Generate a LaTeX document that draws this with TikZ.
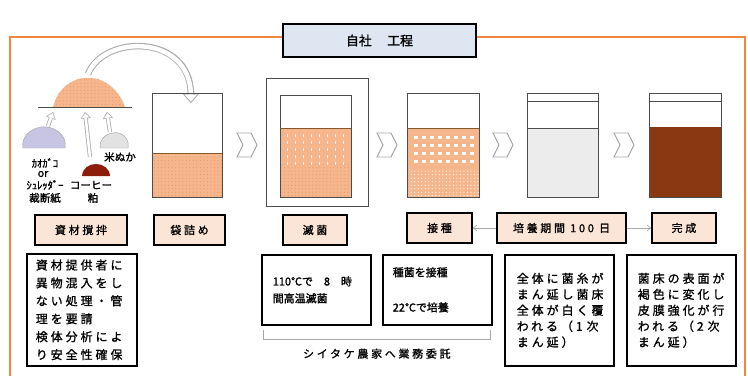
\documentclass[tikz,border=0pt]{standalone}
\usepackage{fontspec}
\setmainfont{Noto Sans CJK JP}
\newfontfamily\jpwide[LetterSpace=25]{Noto Sans CJK JP}
\newfontfamily\jpbold[FakeBold=1.5]{Noto Sans CJK JP}
\newfontfamily\jpboldwide[FakeBold=1.2,LetterSpace=25]{Noto Sans CJK JP}
\usetikzlibrary{arrows.meta, calc, positioning, patterns}

\definecolor{frameorange}{RGB}{240,135,60}
\definecolor{mixorange}{RGB}{246,182,140}
\definecolor{dotorange}{RGB}{232,152,106}
\definecolor{labelpink}{RGB}{251,229,214}
\definecolor{titleblue}{RGB}{221,230,241}
\definecolor{mycelgray}{RGB}{236,236,236}
\definecolor{barkbrown}{RGB}{138,56,18}
\definecolor{lavender}{RGB}{200,196,228}
\definecolor{brangray}{RGB}{226,226,226}
\definecolor{coffeered}{RGB}{140,28,12}

\begin{document}
\begin{tikzpicture}[x=0.3mm, y=-0.3mm,
  lblbox/.style={draw, line width=1.4pt, fill=labelpink, minimum height=9mm,
    inner sep=0pt, font=\jpboldwide\fontsize{9.35pt}{12pt}\selectfont},
  note/.style={draw, line width=1.4pt, fill=white, anchor=north west,
    align=left, inner ysep=1mm},
  bag/.style={draw=gray!60!black, line width=0.7pt},
  chev/.style={draw=gray!70, fill=white, line width=0.8pt},
  conn/.style={gray!70, line width=0.6pt, -{Straight Barb[length=3pt,width=5pt]}},
  holo/.style={gray!65, line width=5.6pt,
    -{Triangle[length=8pt,width=14pt,line width=0.1pt]}},
  holoin/.style={white, line width=3.8pt, shorten >=1.4pt,
    -{Triangle[length=5.8pt,width=10.4pt,line width=0.1pt]}},
  holosm/.style={gray!65, line width=3.6pt,
    -{Triangle[length=5.5pt,width=8.5pt,line width=0.1pt]}},
  holosmin/.style={white, line width=2.2pt, shorten >=1.1pt,
    -{Triangle[length=3.8pt,width=6pt,line width=0.1pt]}},
  small/.style={inner sep=0pt, font=\jpbold\fontsize{9pt}{10pt}\selectfont}]

  \useasboundingbox (0,0) rectangle (748,375);

  % outer frame and title
  \draw[frameorange, line width=1.2pt] (10,376) -- (10,37) -- (745,37) -- (745,376);
  \node[draw, line width=1.4pt, fill=titleblue, minimum width=57.9mm,
        minimum height=9.9mm, font=\jpbold\fontsize{11pt}{13pt}\selectfont]
        (title) at (379.5,40.5) {自社\hspace{1.2em}工程};

  % mixed material heap
  \fill[mixorange] (53,107) .. controls (62,70) and (110,66) .. (125,107) -- cycle;
  \fill[pattern=dots, pattern color=dotorange] (53,107) .. controls (62,70) and (110,66) .. (125,107) -- cycle;
  \draw[gray!60!black, line width=0.8pt] (38,107) -- (132,107);

  % raw materials
  \draw[gray!70, fill=lavender] (23,148) -- (65,148) .. controls (68,134) and (52,125) .. (41,127)
        .. controls (29,129) and (21,138) .. cycle;
  \draw[gray!70, fill=brangray] (100,148) -- (128,148) .. controls (130,137) and (120,131) .. (113,133)
        .. controls (104,134) and (99,141) .. cycle;
  \fill[coffeered] (82,176) .. controls (83,160) and (109,160) .. (110,176) -- cycle;

  \draw[holosm] (48,126) -- (53,112);
  \draw[holosmin] (48,126) -- (53,112);
  \draw[holosm] (90,157) -- (85,112);
  \draw[holosmin] (90,157) -- (85,112);
  \draw[holosm] (110,132) -- (107,112);
  \draw[holosmin] (110,132) -- (107,112);

  \node[small] (ogako) at (45,163) {ｶｵｶﾞｺ};
  \node[small] (orword) at (43,174) {or};
  \node[small] (shred) at (45,185) {ｼｭﾚｯﾀﾞｰ};
  \node[small] (paper) at (45,198) {裁断紙};
  \node[small] (nuka) at (120,157) {米ぬか};
  \node[small] (coffee) at (91,185) {コーヒー};
  \node[small] (kasu) at (93,198) {粕};

  % heap goes into the bag
  \draw[holo] (88,74) .. controls (104,34) and (190,34) .. (191,103);
  \draw[holoin] (88,74) .. controls (104,34) and (190,34) .. (191,103);

  % bag 1: filled
  \fill[mixorange] (152,153) rectangle (222,197);
  \fill[pattern=dots, pattern color=dotorange] (152,153) rectangle (222,197);
  \draw[bag] (152,93) rectangle (222,197);
  \draw[brown!70!black, line width=0.6pt] (152,153) -- (222,153);

  % bag 2: sterilised, in its autoclave frame
  \draw[bag] (266,78) rectangle (368,206);
  \fill[mixorange] (280,128) rectangle (351,197);
  \fill[pattern=dots, pattern color=dotorange] (280,164) rectangle (351,197);
  \foreach \dx in {287,295,...,343}
    \foreach \dy in {134,141,...,162}
      \fill[white] (\dx,\dy) rectangle ++(1.2,3);
  \draw[bag] (280,95) rectangle (351,197);
  \draw[brown!70!black, line width=0.6pt] (280,128) -- (351,128);

  % bag 3: inoculated
  \fill[mixorange] (407,128) rectangle (479,197);
  \fill[pattern=dots, pattern color=white] (407,168) rectangle (479,197);
  \foreach \dx in {414,422,...,472}
    \foreach \dy in {136,144,...,160}
      \fill[white] (\dx,\dy) rectangle ++(4,3);
  \draw[bag] (407,93) rectangle (479,197);
  \draw[brown!70!black, line width=0.6pt] (407,128) -- (479,128);

  % bag 4: first colonisation
  \fill[mycelgray] (527,128) rectangle (598,197);
  \draw[bag] (527,93) rectangle (598,197);
  \draw[bag] (527,101) -- (598,101);
  \draw[bag] (527,128) -- (598,128);

  % bag 5: finished block
  \fill[barkbrown] (649,127) rectangle (721,197);
  \draw[bag] (649,93) rectangle (721,197);
  \draw[bag] (649,101) -- (721,101);

  % step chevrons
  \foreach \cx in {237,377,493,614}
    \draw[chev] (\cx,133) -- ++(14,0) -- ++(6,12) -- ++(-6,12) -- ++(-14,0) -- ++(6,-12) -- cycle;

  % step labels
  \node[lblbox, minimum width=27.6mm] (lblmix) at (81,230) {資材撹拌};
  \node[lblbox, minimum width=21.3mm] (lblbag) at (189.5,230) {袋詰め};
  \node[lblbox, minimum width=19.2mm] (lblster) at (315,230) {滅菌};
  \node[lblbox, minimum width=19.5mm] (lblinoc) at (439.5,228) {接種};
  \node[lblbox, minimum width=38.7mm] (lblcult) at (561.5,228) {培養期間 100 日};
  \node[lblbox, minimum width=19.2mm] (lbldone) at (684,228) {完成};

  \draw[conn] (lblcult) -- (lblinoc);
  \draw[conn] (lblcult) -- (lbldone);

  % notes
  \node[note, inner xsep=2.7mm, text width=27.6mm, minimum height=33.6mm,
        font=\jpboldwide\fontsize{10.2pt}{15.3pt}\selectfont] (notemix) at (26,253)
        {資材提供者に\\異物混入をし\\ない処理・管\\理を要請\\検体分析によ\\り安全性確保};
  \node[note, inner xsep=3.3mm, text width=26.1mm, minimum height=21mm,
        font=\jpbold\fontsize{9.35pt}{14.5pt}\selectfont] (noteste) at (261,254)
        {110℃で\hspace{1em}8\hspace{1em}時\\間高温滅菌};
  \node[note, inner xsep=3mm, text width=26.7mm, minimum height=21mm,
        font=\jpbold\fontsize{9.35pt}{14pt}\selectfont] (noteinoc) at (382,254)
        {種菌を接種\\[5.6mm]22℃で培養};
  \node[note, inner xsep=3.6mm, text width=25.5mm, minimum height=33.3mm,
        font=\jpboldwide\fontsize{10.2pt}{13.6pt}\selectfont] (notecult) at (504,254)
        {全体に菌糸が\\まん延し菌床\\全体が白く覆\\われる（1\ 次\\まん延）};
  \node[note, inner xsep=3.3mm, text width=26.1mm, minimum height=33.3mm,
        font=\jpboldwide\fontsize{10.2pt}{13.6pt}\selectfont] (notedone) at (626,254)
        {菌床の表面が\\褐色に変化し\\皮膜強化が行\\われる（2\ 次\\まん延）};

  % outsourced steps
  \coordinate (brl) at ($(noteste.south west)+(2,14)$);
  \coordinate (brr) at ($(noteinoc.south east)+(-2,14)$);
  \draw[gray!70, line width=0.8pt] ($(brl)+(0,-10)$) -- (brl) -- (brr) -- ++(0,-10);
  \node[font=\jpboldwide\fontsize{9.35pt}{12pt}\selectfont, inner sep=0pt] (outsrc)
        at ($(brl)!0.5!(brr)+(0,14)$) {シイタケ農家へ業務委託};
\end{tikzpicture}
\end{document}
